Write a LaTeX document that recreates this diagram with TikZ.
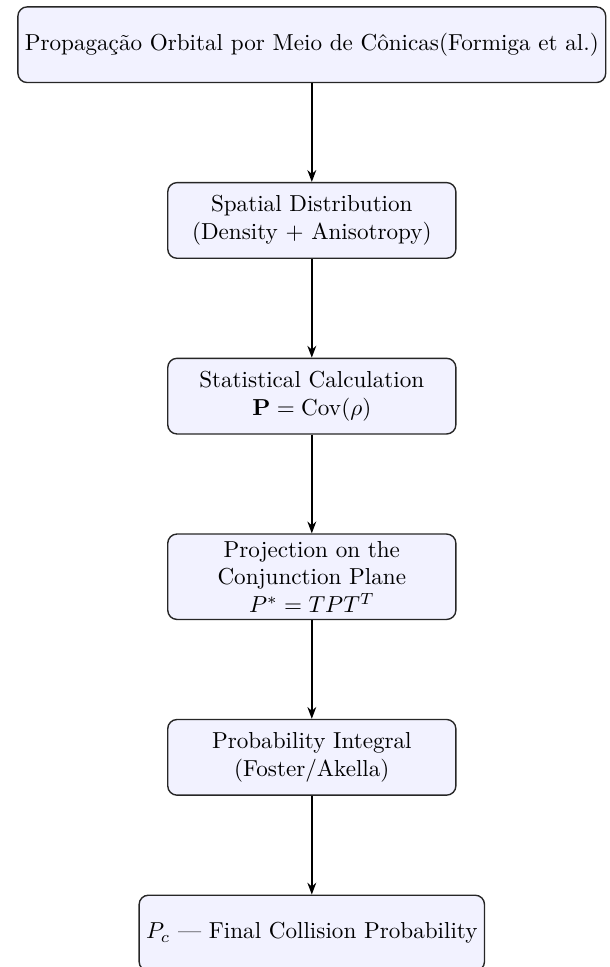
\documentclass[tikz,border=0pt]{standalone}
\usepackage{amsmath}
\usepackage{amssymb}
\usetikzlibrary{arrows.meta,positioning}

\begin{document}
\begin{tikzpicture}[node distance=1.5cm,
  stage/.style={draw=black!85, semithick, rounded corners=4pt, fill=blue!5,
    align=center, minimum width=4.38cm, minimum height=1.15cm, inner sep=3pt},
  flow/.style={-{Stealth[length=1.8mm]}, semithick}]
% frame
\useasboundingbox (-4.74,0.68) rectangle (4.53,-14.02);
% stages
\node[stage] (prop) at (0,0) {Propagação Orbital por Meio de Cônicas(Formiga et al.)};
\node[stage, below=of prop] (dist) {Spatial Distribution\\(Density $+$ Anisotropy)};
\node[stage, below=of dist] (stat) {Statistical Calculation\\$\mathbf{P} = \mathrm{Cov}(\rho)$};
\node[stage, below=of stat] (proj) {Projection on the\\Conjunction Plane\\$P^{*} = TPT^{T}$};
\node[stage, below=of proj] (integ) {Probability Integral\\(Foster/Akella)};
\node[stage, below=of integ] (final) {$P_c$ --- Final Collision Probability};
% arrows
\draw[flow] (prop) -- (dist);
\draw[flow] (dist) -- (stat);
\draw[flow] (stat) -- (proj);
\draw[flow] (proj) -- (integ);
\draw[flow] (integ) -- (final);
\end{tikzpicture}
\end{document}
